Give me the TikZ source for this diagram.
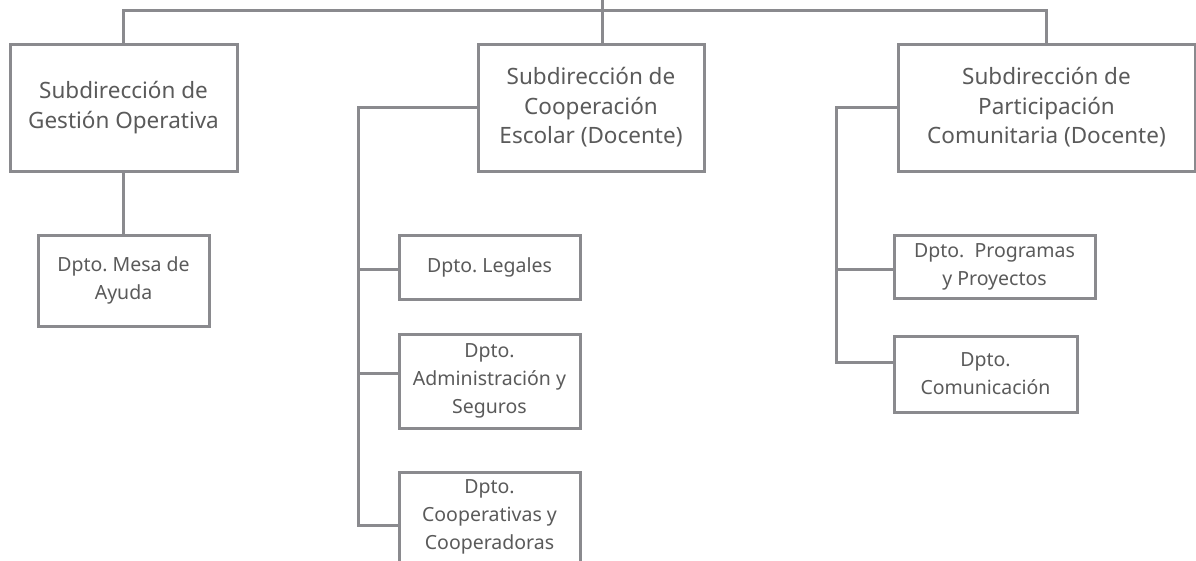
\documentclass[tikz,border=0pt]{standalone}
\usepackage{fontspec}
\setmainfont{Noto Sans}
\frenchspacing
\definecolor{linegray}{HTML}{8A8A8E}
\definecolor{textgray}{HTML}{5A5A5A}
\begin{document}
\begin{tikzpicture}[x=1pt,y=-1pt,
  conn/.style={draw=linegray,line width=3pt},
  bigbox/.style={draw=linegray,line width=3pt,fill=white,inner sep=0pt,align=center,
    text=textgray,font=\fontsize{22.5}{29.5}\selectfont},
  smallbox/.style={draw=linegray,line width=3pt,fill=white,inner sep=0pt,align=center,
    text=textgray,font=\fontsize{19.5}{28}\selectfont}]
\useasboundingbox (0,0) rectangle (1196,560);
\clip (0,0) rectangle (1196,560);
\fill[white] (0,0) rectangle (1196,560);

\coordinate (top) at (602,0);
\coordinate (bar) at (602,10);
\coordinate (r21) at (358,269);
\coordinate (r22) at (358,373);
\coordinate (r23) at (358,525);
\coordinate (r31) at (836,269);
\coordinate (r32) at (836,362);

\node[bigbox,minimum width=227pt,minimum height=127pt] (b1) at (123.5,107.5) {Subdirección de\\Gestión Operativa};
\node[bigbox,minimum width=226pt,minimum height=127pt] (b2) at (591,107.5) {Subdirección de\\Cooperación\\Escolar (Docente)};
\node[bigbox,minimum width=297pt,minimum height=127pt] (b3) at (1046.5,107.5) {Subdirección de\\Participación\\Comunitaria (Docente)};

\node[smallbox,minimum width=171pt,minimum height=91pt] (m1) at (123.5,280.5) {Dpto. Mesa de\\Ayuda};
\node[smallbox,minimum width=181pt,minimum height=64pt] (l1) at (489.5,267) {Dpto. Legales};
\node[smallbox,minimum width=181pt,minimum height=94pt] (l2) at (489.5,381) {Dpto.\\Administración y\\Seguros};
\node[smallbox,minimum width=181pt,minimum height=90pt] (l3) at (489.5,517) {Dpto.\\Cooperativas y\\Cooperadoras};
\node[smallbox,minimum width=201pt,minimum height=63pt] (p1) at (994.5,266.5) {Dpto.~~Programas\\y Proyectos};
\node[smallbox,minimum width=183pt,minimum height=76pt] (p2) at (985.5,374) {Dpto.\\Comunicación};

\draw[conn] (b1.north) |- (bar) -| (b3.north);
\draw[conn] (top) -- (b2.north -| top);
\draw[conn] (b1.south) -- (m1.north);

\draw[conn] (b2.west) -| (r23) -- (l3.west |- r23);
\draw[conn] (r21) -- (l1.west |- r21);
\draw[conn] (r22) -- (l2.west |- r22);

\draw[conn] (b3.west) -| (r32) -- (p2.west |- r32);
\draw[conn] (r31) -- (p1.west |- r31);
\end{tikzpicture}
\end{document}
